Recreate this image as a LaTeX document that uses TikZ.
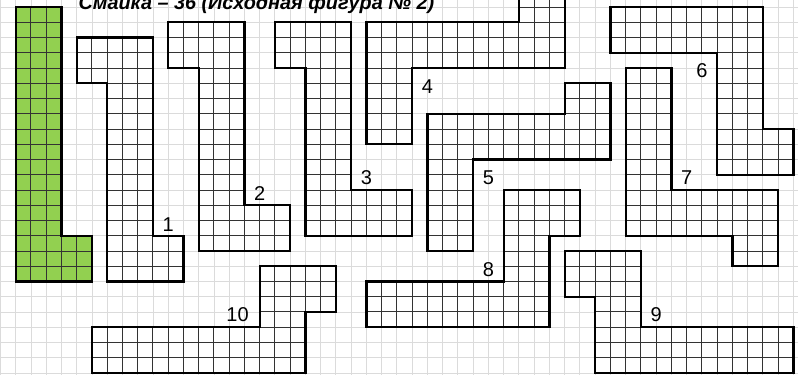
\documentclass[tikz,border=0pt]{standalone}
\usepackage{fontspec}
\setmainfont{Liberation Sans}
\usepackage{tikz}

\definecolor{piecegreen}{HTML}{92D050}
\tikzset{
  bggrid/.style={draw=black!14,line width=0.5pt},
  cellline/.style={draw=black!80,line width=0.55pt},
  outline/.style={draw=black,line width=1.3pt,line join=miter},
  piecelabel/.style={inner sep=0pt,font=\fontsize{11.2}{12}\selectfont},
}
% unit grid lines over the whole sheet
\newcommand{\unitlines}[1]{%
  \foreach \gx in {-1,...,52} \draw[#1] (\gx,-1) -- (\gx,27);
  \foreach \gy in {-1,...,27} \draw[#1] (-2,\gy) -- (53,\gy);}
% one polyomino: fill, cell lines clipped to it, thick border
\newcommand{\cellpiece}[2]{%
  \fill[#1] #2 -- cycle;
  \begin{scope}
    \clip #2 -- cycle;
    \unitlines{cellline}
  \end{scope}
  \draw[outline] #2 -- cycle;}

\begin{document}
\begin{tikzpicture}[x=0.3cm,y=0.3cm]
\useasboundingbox (-1.03,-0.13) rectangle (51.30,24.46);
\clip (-1.03,-0.13) rectangle (51.30,24.46);
\fill[white] (-1.03,-0.13) rectangle (51.30,24.46);
\unitlines{bggrid}
\node[anchor=base west,inner sep=0pt,font=\bfseries\itshape\fontsize{11.1}{12}\selectfont] (title) at (4.1,23.85) {Смайка – 36 (Исходная фигура № 2)};
\cellpiece{piecegreen}{(0,24) -- (3,24) -- (3,9) -- (5,9) -- (5,6) -- (0,6)}
\cellpiece{white}{(4,22) -- (9,22) -- (9,9) -- (11,9) -- (11,6) -- (6,6) -- (6,19) -- (4,19)}
\cellpiece{white}{(10,23) -- (15,23) -- (15,11) -- (18,11) -- (18,8) -- (12,8) -- (12,20) -- (10,20)}
\cellpiece{white}{(17,23) -- (22,23) -- (22,12) -- (26,12) -- (26,9) -- (19,9) -- (19,20) -- (17,20)}
\cellpiece{white}{(23,23) -- (33,23) -- (33,26) -- (36,26) -- (36,20) -- (26,20) -- (26,15) -- (23,15)}
\cellpiece{white}{(27,17) -- (36,17) -- (36,19) -- (39,19) -- (39,14) -- (30,14) -- (30,8) -- (27,8)}
\cellpiece{white}{(39,24) -- (49,24) -- (49,16) -- (51,16) -- (51,13) -- (46,13) -- (46,21) -- (39,21)}
\cellpiece{white}{(40,20) -- (43,20) -- (43,12) -- (50,12) -- (50,7) -- (47,7) -- (47,9) -- (40,9)}
\cellpiece{white}{(23,6) -- (32,6) -- (32,12) -- (37,12) -- (37,9) -- (35,9) -- (35,3) -- (23,3)}
\cellpiece{white}{(36,8) -- (41,8) -- (41,3) -- (51,3) -- (51,0) -- (38,0) -- (38,5) -- (36,5)}
\cellpiece{white}{(5,3) -- (16,3) -- (16,7) -- (21,7) -- (21,4) -- (19,4) -- (19,0) -- (5,0)}
\node[piecelabel] (n1) at (10.0,9.74) {1};
\node[piecelabel] (n2) at (16.0,11.8) {2};
\node[piecelabel] (n3) at (23.0,12.8) {3};
\node[piecelabel] (n4) at (27.0,18.8) {4};
\node[piecelabel] (n5) at (31.0,12.8) {5};
\node[piecelabel] (n6) at (45.0,19.8) {6};
\node[piecelabel] (n7) at (44.0,12.8) {7};
\node[piecelabel] (n8) at (31.0,6.8) {8};
\node[piecelabel] (n9) at (42.0,3.8) {9};
\node[piecelabel] (n10) at (14.55,3.85) {10};
\end{tikzpicture}
\end{document}
